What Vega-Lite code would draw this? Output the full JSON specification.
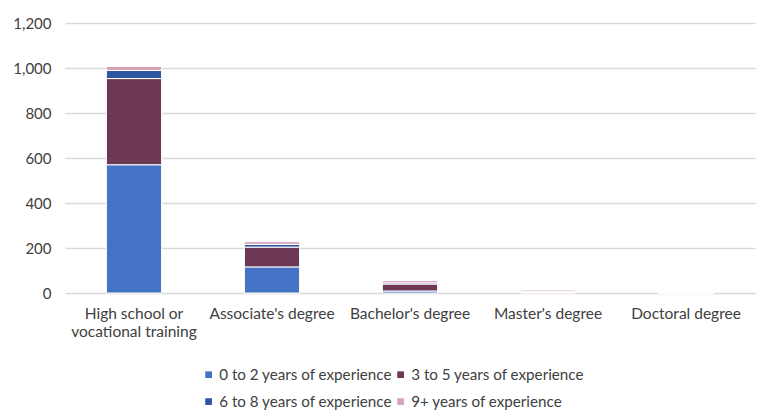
{
  "$schema": "https://vega.github.io/schema/vega-lite/v6.json",
  "width": 690,
  "height": 270,
  "autosize": {"type": "none"},
  "padding": {"left": 65, "top": 23, "right": 5, "bottom": 123},
  "background": "white",
  "config": {
    "font": "Lato",
    "view": {"stroke": null}
  },
  "data": {
    "values": [
      {"degree": "High school or vocational training", "exp": "0 to 2 years of experience", "k": 0, "count": 570},
      {"degree": "High school or vocational training", "exp": "3 to 5 years of experience", "k": 1, "count": 383},
      {"degree": "High school or vocational training", "exp": "6 to 8 years of experience", "k": 2, "count": 36},
      {"degree": "High school or vocational training", "exp": "9+ years of experience", "k": 3, "count": 18},
      {"degree": "Associate's degree", "exp": "0 to 2 years of experience", "k": 0, "count": 116},
      {"degree": "Associate's degree", "exp": "3 to 5 years of experience", "k": 1, "count": 88},
      {"degree": "Associate's degree", "exp": "6 to 8 years of experience", "k": 2, "count": 12},
      {"degree": "Associate's degree", "exp": "9+ years of experience", "k": 3, "count": 12},
      {"degree": "Bachelor's degree", "exp": "0 to 2 years of experience", "k": 0, "count": 9},
      {"degree": "Bachelor's degree", "exp": "3 to 5 years of experience", "k": 1, "count": 31},
      {"degree": "Bachelor's degree", "exp": "6 to 8 years of experience", "k": 2, "count": 5},
      {"degree": "Bachelor's degree", "exp": "9+ years of experience", "k": 3, "count": 10},
      {"degree": "Master's degree", "exp": "0 to 2 years of experience", "k": 0, "count": 2},
      {"degree": "Master's degree", "exp": "3 to 5 years of experience", "k": 1, "count": 3},
      {"degree": "Master's degree", "exp": "6 to 8 years of experience", "k": 2, "count": 1},
      {"degree": "Master's degree", "exp": "9+ years of experience", "k": 3, "count": 7},
      {"degree": "Doctoral degree", "exp": "0 to 2 years of experience", "k": 0, "count": 0},
      {"degree": "Doctoral degree", "exp": "3 to 5 years of experience", "k": 1, "count": 0},
      {"degree": "Doctoral degree", "exp": "6 to 8 years of experience", "k": 2, "count": 0},
      {"degree": "Doctoral degree", "exp": "9+ years of experience", "k": 3, "count": 0}
    ]
  },
  "mark": {"type": "bar", "stroke": "white", "strokeWidth": 1},
  "encoding": {
    "x": {
      "field": "degree",
      "type": "nominal",
      "sort": null,
      "scale": {"paddingInner": 0.6, "paddingOuter": 0.3},
      "axis": {
        "title": null,
        "labelAngle": 0,
        "labelFontSize": 15.5,
        "labelColor": "#404040",
        "labelPadding": 13,
        "labelLineHeight": 18.5,
        "labelLimit": 300,
        "ticks": false,
        "domain": false,
        "labelExpr": "datum.value == 'High school or vocational training' ? ['High school or', 'vocational training'] : datum.value"
      }
    },
    "y": {
      "field": "count",
      "type": "quantitative",
      "aggregate": "sum",
      "stack": "zero",
      "scale": {"domain": [0, 1200]},
      "axis": {
        "title": null,
        "values": [0, 200, 400, 600, 800, 1000, 1200],
        "format": ",.0f",
        "labelFontSize": 15,
        "labelColor": "#404040",
        "labelPadding": 14,
        "ticks": false,
        "domain": false,
        "gridColor": "#d9d9d9",
        "gridWidth": 1.5
      }
    },
    "color": {
      "field": "exp",
      "type": "nominal",
      "sort": ["0 to 2 years of experience", "3 to 5 years of experience", "6 to 8 years of experience", "9+ years of experience"],
      "scale": {
        "domain": ["0 to 2 years of experience", "3 to 5 years of experience", "6 to 8 years of experience", "9+ years of experience"],
        "range": ["#4472C4", "#6D3853", "#2E56A0", "#D6A0BF"]
      },
      "legend": {
        "title": null,
        "orient": "none",
        "legendX": 136,
        "legendY": 344,
        "columns": 2,
        "direction": "horizontal",
        "symbolType": "square",
        "symbolSize": 45,
        "symbolStrokeWidth": 0,
        "labelFontSize": 15.2,
        "labelLimit": 400,
        "labelColor": "#404040",
        "labelOffset": 3,
        "rowPadding": 11,
        "columnPadding": 0
      }
    },
    "order": {"field": "k", "type": "quantitative", "sort": "ascending"}
  }
}
